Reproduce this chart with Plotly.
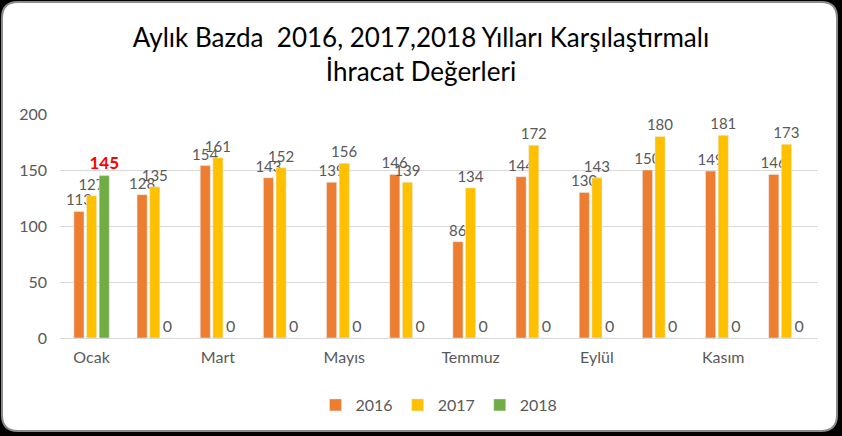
import plotly.graph_objects as go

months = ["Ocak", "Şubat", "Mart", "Nisan", "Mayıs", "Haziran",
          "Temmuz", "Ağustos", "Eylül", "Ekim", "Kasım", "Aralık"]
v2016 = [113, 128, 154, 143, 139, 146, 86, 144, 130, 150, 149, 146]
v2017 = [127, 135, 161, 152, 156, 139, 134, 172, 143, 180, 181, 173]
v2018 = [145, 0, 0, 0, 0, 0, 0, 0, 0, 0, 0, 0]
shown_ticks = months[::2]
yticks = [0, 50, 100, 150, 200]

W, H = 842, 436
ML, MR, MT, MB = 60, 24, 114, 98
PW, PH = W - ML - MR, H - MT - MB

def px(x):
    return (x - ML) / PW

def py(y):
    return (H - MB - y) / PH

LABEL = "#595959"
FONT = "Lato"

fig = go.Figure()
fig.add_bar(x=months, y=v2016, name="2016", marker_color="#ED7D31",
            text=[str(v) for v in v2016], textposition="outside", constraintext="none",
            textfont=dict(size=15, color=LABEL, family=FONT), cliponaxis=False)
fig.add_bar(x=months, y=v2017, name="2017", marker_color="#FFC000",
            text=[str(v) for v in v2017], textposition="outside", constraintext="none",
            textfont=dict(size=15, color=LABEL, family=FONT), cliponaxis=False)
t18 = ["<b>%d</b>" % v if v else str(v) for v in v2018]
c18 = ["#FF0000" if v else LABEL for v in v2018]
s18 = [17 if v else 16 for v in v2018]
fig.add_bar(x=months, y=v2018, name="2018", marker_color="#70AD47",
            text=t18, textposition="outside", constraintext="none",
            textfont=dict(size=s18, color=c18, family=FONT), cliponaxis=False)

# rounded white frame
r = 16
x0, x1, y0, y1 = 2, 837, 2, 431
rx, ry = r / PW, r / PH
path = (f"M {px(x0)+rx},{py(y0)} L {px(x1)-rx},{py(y0)} "
        f"Q {px(x1)},{py(y0)} {px(x1)},{py(y0)-ry} "
        f"L {px(x1)},{py(y1)+ry} Q {px(x1)},{py(y1)} {px(x1)-rx},{py(y1)} "
        f"L {px(x0)+rx},{py(y1)} Q {px(x0)},{py(y1)} {px(x0)},{py(y1)+ry} "
        f"L {px(x0)},{py(y0)-ry} Q {px(x0)},{py(y0)} {px(x0)+rx},{py(y0)} Z")
fig.add_shape(type="path", path=path, xref="paper", yref="paper",
              fillcolor="white", line=dict(color="#8c8c8c", width=2), layer="below")

fig.update_layout(
    width=W, height=H,
    margin=dict(l=ML, r=MR, t=MT, b=MB),
    paper_bgcolor="black", plot_bgcolor="rgba(0,0,0,0)",
    barmode="group", bargap=0.4, bargroupgap=0.2,
    title=dict(text="Aylık Bazda  2016, 2017,2018 Yılları Karşılaştırmalı<br>İhracat Değerleri",
               x=0.5, xanchor="center", xref="container",
               y=1 - 47 / H, yanchor="middle", yref="container",
               font=dict(family=FONT, size=26, color="black")),
    legend=dict(orientation="h", x=0.5, xanchor="center", y=py(405), yanchor="middle",
                font=dict(family=FONT, size=16, color=LABEL), traceorder="normal",
                itemwidth=30, bgcolor="rgba(0,0,0,0)"),
    font=dict(family=FONT),
)
fig.update_xaxes(tickvals=shown_ticks, ticktext=shown_ticks, showgrid=False, showline=False,
                 tickfont=dict(size=16, color=LABEL, family=FONT), ticks="",
                 ticklabelstandoff=8)
fig.update_yaxes(range=[0, 200], tickvals=yticks, showgrid=True, gridcolor="#D9D9D9",
                 gridwidth=1, zeroline=True, zerolinecolor="#D9D9D9", zerolinewidth=1,
                 tickfont=dict(size=16, color=LABEL, family=FONT), ticks="",
                 ticklabelstandoff=12)

fig.write_html("out.html", config={"displayModeBar": False},
               post_script="document.body.style.margin='0';document.body.style.overflow='hidden';")
